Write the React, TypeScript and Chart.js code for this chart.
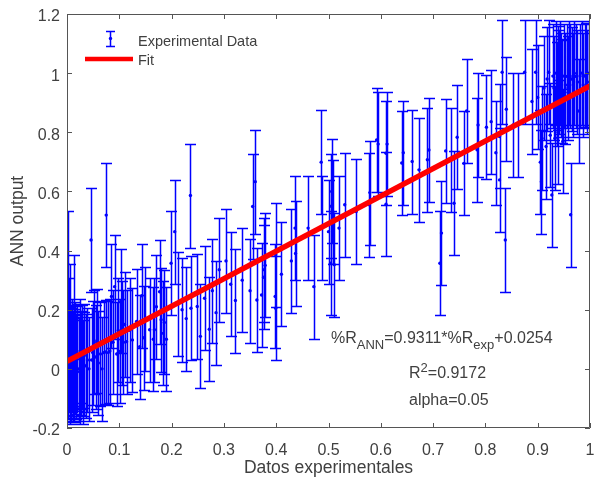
import React, { useEffect, useRef } from 'react';
import { Chart, registerables } from 'chart.js';

Chart.register(...registerables);

// Experimental data (x) and ANN output (y)
const EXP_X = [
  0.000, 0.001, 0.002, 0.004, 0.005, 0.006, 0.007, 0.008, 0.010, 0.012,
  0.013, 0.014, 0.016, 0.018, 0.020, 0.022, 0.025, 0.027, 0.030, 0.033,
  0.036, 0.039, 0.042, 0.046, 0.047, 0.049, 0.052, 0.055, 0.057, 0.060,
  0.064, 0.067, 0.070, 0.074, 0.075, 0.079, 0.082, 0.085, 0.088, 0.091,
  0.095, 0.098, 0.101, 0.103, 0.106, 0.108, 0.110, 0.114, 0.120, 0.125,
  0.133, 0.139, 0.143, 0.147, 0.150, 0.158, 0.165, 0.167, 0.171, 0.177,
  0.180, 0.184, 0.186, 0.190, 0.199, 0.206, 0.213, 0.220, 0.228, 0.236,
  0.237, 0.249, 0.255, 0.263, 0.272, 0.278, 0.285, 0.291, 0.304, 0.313,
  0.322, 0.335, 0.350, 0.355, 0.360, 0.363, 0.372, 0.376, 0.377, 0.379,
  0.398, 0.399, 0.399, 0.410, 0.429, 0.436, 0.437, 0.461, 0.472, 0.486,
  0.487, 0.500, 0.504, 0.505, 0.506, 0.508, 0.511, 0.520, 0.531, 0.553,
  0.578, 0.579, 0.592, 0.595, 0.610, 0.610, 0.612, 0.640, 0.643, 0.660,
  0.673, 0.689, 0.692, 0.713, 0.716, 0.724, 0.735, 0.740, 0.746, 0.759,
  0.764, 0.784, 0.786, 0.802, 0.811, 0.820, 0.827, 0.827, 0.832, 0.838,
  0.840, 0.853, 0.862, 0.875, 0.889, 0.896, 0.900, 0.905, 0.907, 0.908,
  0.912, 0.916, 0.918, 0.921, 0.924, 0.927, 0.929, 0.931, 0.933, 0.935,
  0.937, 0.939, 0.941, 0.943, 0.946, 0.948, 0.950, 0.953, 0.956, 0.958,
  0.960, 0.963, 0.965, 0.968, 0.970, 0.973, 0.976, 0.979, 0.981, 0.984,
  0.987, 0.990, 0.992, 0.995, 0.998, 0.001, 0.003, 0.006, 0.009, 0.011,
  0.015, 0.017, 0.019, 0.024, 0.028, 0.032, 0.938, 0.944, 0.952, 0.962,
];

const ANN_Y = [
  0.005, 0.357, 0.020, 0.130, -0.010, 0.180, 0.040, 0.000, 0.030, 0.015,
  0.210, -0.005, 0.050, 0.010, 0.045, 0.000, 0.060, 0.020, -0.010, 0.045,
  0.010, 0.030, 0.000, 0.436, 0.030, 0.055, 0.090, 0.040, 0.095, 0.020,
  0.050, 0.000, 0.055, 0.057, 0.520, 0.055, 0.060, 0.245, 0.090, 0.278,
  0.050, 0.130, 0.059, 0.228, 0.120, 0.090, 0.150, 0.092, 0.130, 0.098,
  0.160, 0.075, 0.247, 0.105, 0.170, 0.132, 0.100, 0.132, 0.210, 0.261,
  0.166, 0.120, 0.157, 0.100, 0.357, 0.464, 0.220, 0.200, 0.170, 0.586,
  0.205, 0.211, 0.110, 0.239, 0.134, 0.264, 0.190, 0.335, 0.365, 0.286,
  0.231, 0.300, 0.264, 0.549, 0.633, 0.233, 0.250, 0.310, 0.335, 0.350,
  0.245, 0.205, 0.386, 0.320, 0.365, 0.476, 0.390, 0.476, 0.278, 0.699,
  0.476, 0.464, 0.357, 0.550, 0.600, 0.529, 0.352, 0.476, 0.555, 0.532,
  0.555, 0.596, 0.774, 0.760, 0.729, 0.557, 0.760, 0.696, 0.731, 0.701,
  0.673, 0.707, 0.740, 0.357, 0.459, 0.737, 0.707, 0.560, 0.783, 0.695,
  0.872, 0.741, 0.825, 0.817, 0.836, 0.731, 0.786, 0.639, 1.003, 0.436,
  0.878, 0.825, 0.825, 1.003, 0.904, 1.003, 0.918, 0.699, 0.633, 0.780,
  0.950, 0.752, 0.980, 1.003, 0.790, 0.588, 0.990, 0.950, 0.780, 1.000,
  0.930, 0.800, 0.970, 1.000, 0.940, 0.769, 0.990, 0.960, 0.989, 0.950,
  1.000, 0.521, 0.980, 0.960, 1.000, 0.989, 0.970, 0.872, 0.990, 1.000,
  0.960, 0.990, 0.994, 0.970, 1.000, 0.010, 0.035, -0.005, 0.060, 0.000,
  0.025, 0.005, 0.035, -0.010, 0.040, 0.015, 0.985, 0.960, 0.935, 0.990,
];

// Half width of the confidence interval (alpha = 0.05)
const CI_HALF = 0.176;

// Fit line end points: %R_ANN = 0.9311 * %R_exp + 0.0254
const FIT_X = [0, 1];
const FIT_Y = [0.0254, 0.9565];

const X_TICKS = [0, 0.1, 0.2, 0.3, 0.4, 0.5, 0.6, 0.7, 0.8, 0.9, 1];
const X_TICK_LABELS = ['0', '0.1', '0.2', '0.3', '0.4', '0.5', '0.6', '0.7', '0.8', '0.9', '1'];
const Y_TICKS = [-0.2, 0, 0.2, 0.4, 0.6, 0.8, 1, 1.2];
const Y_TICK_LABELS = ['-0.2', '0', '0.2', '0.4', '0.6', '0.8', '1', '1.2'];

const FONT = '"Liberation Sans", Arial, Helvetica, sans-serif';
const AXIS_COLOR = '#404040';
const FRAME_COLOR = '#555555';
const BLUE = '#0000FF';
const BAR_BLUE = '#0000FF';
const RED = '#FF0000';

const errorBarPlugin = {
  id: 'errorBars',
  beforeDatasetsDraw(chart: any) {
    const { ctx, chartArea } = chart;
    const xs = chart.scales.x;
    const ys = chart.scales.y;
    const cap = 5.5;
    ctx.save();
    ctx.beginPath();
    ctx.rect(chartArea.left, chartArea.top, chartArea.right - chartArea.left, chartArea.bottom - chartArea.top);
    ctx.clip();
    ctx.strokeStyle = BAR_BLUE;
    ctx.lineWidth = 1.5;
    ctx.beginPath();
    for (let i = 0; i < EXP_X.length; i++) {
      const px = Math.round(xs.getPixelForValue(EXP_X[i])) + 0.5;
      const pt = Math.round(ys.getPixelForValue(ANN_Y[i] + CI_HALF)) + 0.5;
      const pb = Math.round(ys.getPixelForValue(ANN_Y[i] - CI_HALF)) + 0.5;
      ctx.moveTo(px, pt);
      ctx.lineTo(px, pb);
      ctx.moveTo(px - cap, pt);
      ctx.lineTo(px + cap, pt);
      ctx.moveTo(px - cap, pb);
      ctx.lineTo(px + cap, pb);
    }
    ctx.stroke();
    ctx.restore();
  },
};

const framePlugin = {
  id: 'frameAndText',
  afterDatasetsDraw(chart: any) {
    const { ctx, chartArea } = chart;
    const xs = chart.scales.x;
    const ys = chart.scales.y;
    const { left, right, top, bottom } = chartArea;
    const tl = 5;
    ctx.save();
    ctx.strokeStyle = FRAME_COLOR;
    ctx.lineWidth = 1;
    ctx.beginPath();
    ctx.rect(left + 0.5, top + 0.5, right - left - 1, bottom - top - 1);
    for (const v of X_TICKS) {
      const px = Math.round(xs.getPixelForValue(v)) + 0.5;
      ctx.moveTo(px, bottom);
      ctx.lineTo(px, bottom - tl);
      ctx.moveTo(px, top);
      ctx.lineTo(px, top + tl);
    }
    for (const v of Y_TICKS) {
      const py = Math.round(ys.getPixelForValue(v)) + 0.5;
      ctx.moveTo(left, py);
      ctx.lineTo(left + tl, py);
      ctx.moveTo(right, py);
      ctx.lineTo(right - tl, py);
    }
    ctx.stroke();

    // Legend
    ctx.strokeStyle = BAR_BLUE;
    ctx.lineWidth = 1.5;
    ctx.beginPath();
    ctx.moveTo(110.5, 31);
    ctx.lineTo(110.5, 46);
    ctx.moveTo(106, 31.5);
    ctx.lineTo(115, 31.5);
    ctx.moveTo(106, 46.5);
    ctx.lineTo(115, 46.5);
    ctx.stroke();
    ctx.fillStyle = BLUE;
    ctx.beginPath();
    ctx.arc(110.5, 38.5, 1.7, 0, Math.PI * 2);
    ctx.fill();
    ctx.strokeStyle = RED;
    ctx.lineWidth = 4.5;
    ctx.beginPath();
    ctx.moveTo(85, 59);
    ctx.lineTo(133, 59);
    ctx.stroke();
    ctx.fillStyle = AXIS_COLOR;
    ctx.font = `14.5px ${FONT}`;
    ctx.textAlign = 'left';
    ctx.textBaseline = 'alphabetic';
    ctx.fillText('Experimental Data', 138, 46);
    ctx.fillText('Fit', 138, 65);

    // Annotation
    const main = `16px ${FONT}`;
    const sub = `13px ${FONT}`;
    let x = 331;
    const by = 343;
    const parts: Array<[string, string, number]> = [
      ['%R', main, 0],
      ['ANN', sub, 6],
      ['=0.9311*%R', main, 0],
      ['exp', sub, 6],
      ['+0.0254', main, 0],
    ];
    for (const [t, f, dy] of parts) {
      ctx.font = f;
      ctx.fillText(t, x, by + dy);
      x += ctx.measureText(t).width;
    }
    x = 409;
    const by2 = 378;
    ctx.font = main;
    ctx.fillText('R', x, by2);
    x += ctx.measureText('R').width;
    ctx.font = sub;
    ctx.fillText('2', x, by2 - 6);
    x += ctx.measureText('2').width;
    ctx.font = main;
    ctx.fillText('=0.9172', x, by2);
    ctx.fillText('alpha=0.05', 409, 405);
    ctx.restore();
  },
};

export default function App() {
  const canvasRef = useRef<HTMLCanvasElement | null>(null);

  useEffect(() => {
    document.body.style.margin = '0';
    const canvas = canvasRef.current;
    if (!canvas) return;
    const points = EXP_X.map((v, i) => ({ x: v, y: ANN_Y[i] }));
    const fit = FIT_X.map((v, i) => ({ x: v, y: FIT_Y[i] }));
    const chart = new Chart(canvas, {
      type: 'scatter',
      data: {
        datasets: [
          {
            label: 'Fit',
            data: fit,
            showLine: true,
            borderColor: RED,
            borderWidth: 5.5,
            pointRadius: 0,
            order: 0,
          },
          {
            label: 'Experimental Data',
            data: points,
            backgroundColor: BLUE,
            borderWidth: 0,
            pointRadius: 1.7,
            order: 1,
          },
        ],
      },
      options: {
        animation: false,
        responsive: false,
        devicePixelRatio: 1,
        layout: { padding: { top: 14, right: 1, left: 0, bottom: 0 } },
        plugins: {
          legend: { display: false },
          tooltip: { enabled: false },
        },
        scales: {
          x: {
            type: 'linear',
            min: 0,
            max: 1,
            grid: { display: false, drawTicks: false },
            border: { display: false },
            afterBuildTicks: (scale: any) => {
              scale.ticks = X_TICKS.map((v) => ({ value: v }));
            },
            afterFit: (scale: any) => {
              scale.height = 55;
              scale.paddingLeft = 0;
              scale.paddingRight = 0;
            },
            ticks: {
              autoSkip: false,
              maxRotation: 0,
              padding: 13,
              color: AXIS_COLOR,
              font: { family: FONT, size: 16 },
              callback: (_v: any, i: number) => X_TICK_LABELS[i],
            },
            title: {
              display: true,
              text: 'Datos experimentales',
              color: AXIS_COLOR,
              font: { family: FONT, size: 17.5 },
              padding: { top: 0, bottom: 4 },
            },
          },
          y: {
            type: 'linear',
            min: -0.2,
            max: 1.2,
            grid: { display: false, drawTicks: false },
            border: { display: false },
            afterBuildTicks: (scale: any) => {
              scale.ticks = Y_TICKS.map((v) => ({ value: v }));
            },
            afterFit: (scale: any) => {
              scale.width = 67;
              scale.paddingTop = 0;
              scale.paddingBottom = 0;
            },
            ticks: {
              autoSkip: false,
              padding: 7,
              labelOffset: 3,
              color: AXIS_COLOR,
              font: { family: FONT, size: 16 },
              callback: (_v: any, i: number) => Y_TICK_LABELS[i],
            },
            title: {
              display: true,
              text: 'ANN output',
              color: AXIS_COLOR,
              font: { family: FONT, size: 17.5 },
              padding: { top: 8, bottom: 0 },
            },
          },
        },
      },
      plugins: [errorBarPlugin, framePlugin],
    });
    return () => {
      chart.destroy();
    };
  }, []);

  return (
    <div style={{ width: 594, height: 483, background: '#fff' }}>
      <canvas ref={canvasRef} width={594} height={483} style={{ display: 'block' }} />
    </div>
  );
}
